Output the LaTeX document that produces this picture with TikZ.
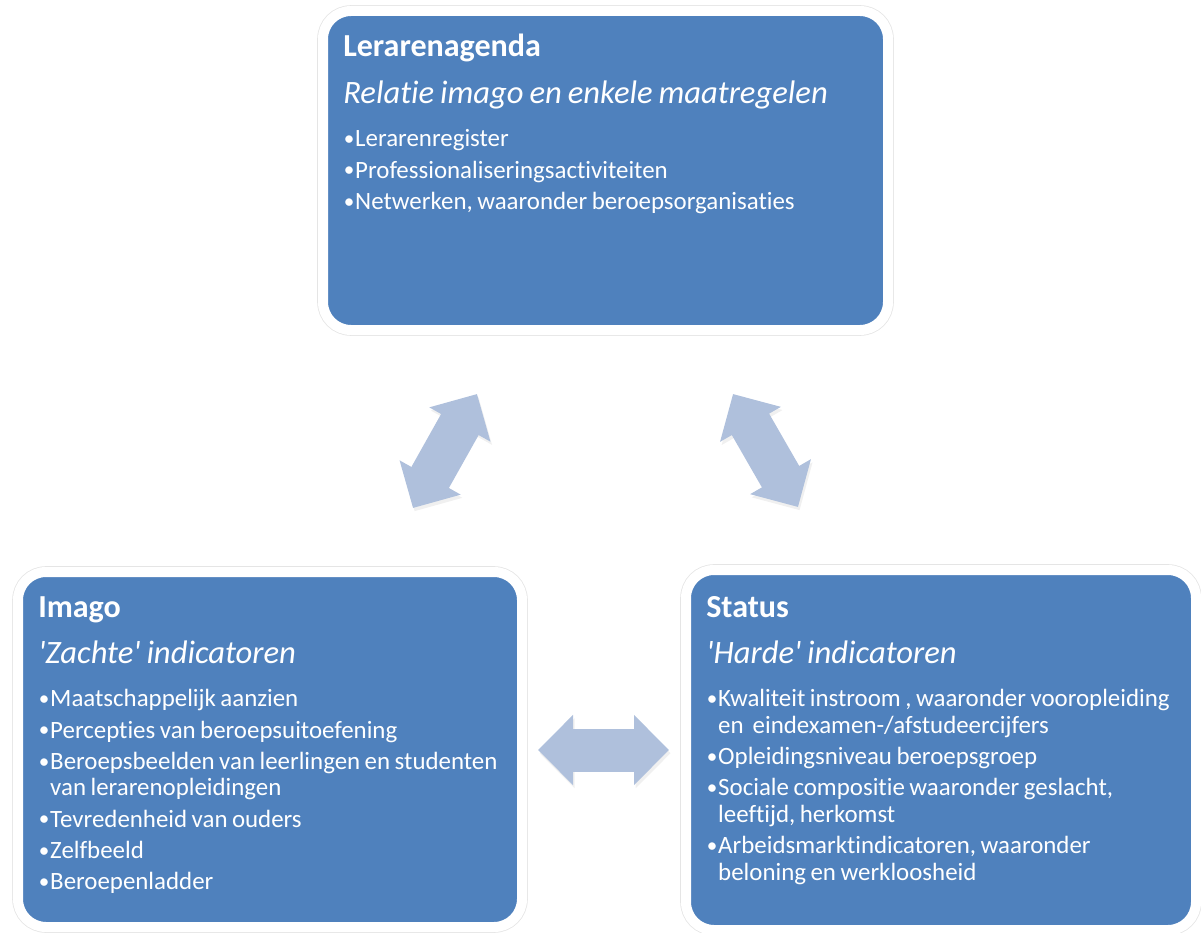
\documentclass[tikz,border=0pt]{standalone}
\usepackage{fontspec}
\setmainfont{Carlito}[Ligatures=NoCommon, WordSpace=0.8]
\usetikzlibrary{arrows.meta,shadows}
\definecolor{boxblue}{HTML}{4F81BD}
\definecolor{arrowblue}{HTML}{AFC0DC}
\newcommand\natspace{\spaceskip=0pt\xspaceskip=0pt}
\newcommand\titlefont{\fontsize{22.8}{24}\selectfont\bfseries\natspace}
\newcommand\subtitlefont{\fontsize{23.2}{29.8}\selectfont\itshape\natspace}
\newcommand\bul{\par\hangindent=8.5pt\hangafter=1\noindent\natspace
  \makebox[8.5pt][l]{\hspace{0.5pt}\raisebox{0.9pt}{\fontsize{15}{15}\selectfont\textbullet}}}
\begin{document}
\begin{tikzpicture}
[x=0.025cm, y=-0.025cm,
  boxdecorate/.style={rounded corners=0.7cm, fill=boxblue, draw=white,
    line width=0.25cm, outer sep=0pt,
    drop shadow={shadow xshift=0.03cm, shadow yshift=-0.1cm, opacity=0.25},
    preaction={draw=black!10, line width=0.29cm}},
  textdecorate/.style={anchor=base west, inner sep=0pt, text=white,
    text width=13cm, align=left, font=\fontsize{17.7}{18.8}\selectfont,
    execute at begin node={\parindent=0pt\setlength{\parskip}{3.5pt}}},
  arrowdecorate/.style={<->, >={Triangle[length=0.875cm,width=1.7cm]},
    line width=1.075cm, draw=arrowblue,
    preaction={draw=black!40, opacity=0.15,
      transform canvas={shift={(0.04cm,-0.08cm)}}}}]
\useasboundingbox (0,0) rectangle (1201,932);
%% boxes
\foreach \boxname/\x/\y/\w/\h in {
  lerarenagenda/605.5/170.5/565/319, imago/270/749.5/504/355,
  status/941/750/510/360} {
  \node (\boxname) at (\x,\y) [boxdecorate, minimum width=\w*0.025cm,
    minimum height=\h*0.025cm] {};
}
%% texts
\node (lerarenagenda-text) [textdecorate]
  at ([shift={(20,46)}]lerarenagenda.north west) {%
  {\titlefont Lerarenagenda\par}
  {\subtitlefont Relatie imago en enkele maatregelen\par}
  \vspace{8.2pt}
  \bul Lerarenregister
  \bul Professionaliseringsactiviteiten
  \bul Netwerken, waaronder beroepsorganisaties\par};
\node (imago-text) [textdecorate]
  at ([shift={(20,45)}]imago.north west) {%
  {\titlefont Imago\par}
  {\subtitlefont \textquotesingle Zachte\textquotesingle\ indicatoren\par}
  \vspace{8.2pt}
  \bul Maatschappelijk aanzien
  \bul Percepties van beroepsuitoefening
  \bul Beroepsbeelden van leerlingen en studenten\newline van lerarenopleidingen
  \bul Tevredenheid van ouders
  \bul Zelfbeeld
  \bul Beroepenladder\par};
\node (status-text) [textdecorate]
  at ([shift={(20,47)}]status.north west) {%
  {\titlefont Status\par}
  {\subtitlefont \textquotesingle Harde\textquotesingle\ indicatoren\par}
  \vspace{8.2pt}
  \bul Kwaliteit instroom , waaronder vooropleiding\newline en\ \ eindexamen-/afstudeercijfers
  \bul Opleidingsniveau beroepsgroep
  \bul Sociale compositie waaronder geslacht,\newline leeftijd, herkomst
  \bul Arbeidsmarktindicatoren, waaronder\newline beloning en werkloosheid\par};
%% arrow ends
\foreach \pointname/\x/\y in {
  agenda-imago/477/394, imago-agenda/413/508,
  agenda-status/733/394, status-agenda/798/507,
  imago-status/538/750, status-imago/669/750} {
  \coordinate (\pointname) at (\x,\y);
}
%% arrows
\path
\foreach \startpoint/\endpoint in {agenda-imago/imago-agenda,
  agenda-status/status-agenda, imago-status/status-imago} {
  (\startpoint) edge[arrowdecorate] (\endpoint)
};
\end{tikzpicture}
\end{document}
